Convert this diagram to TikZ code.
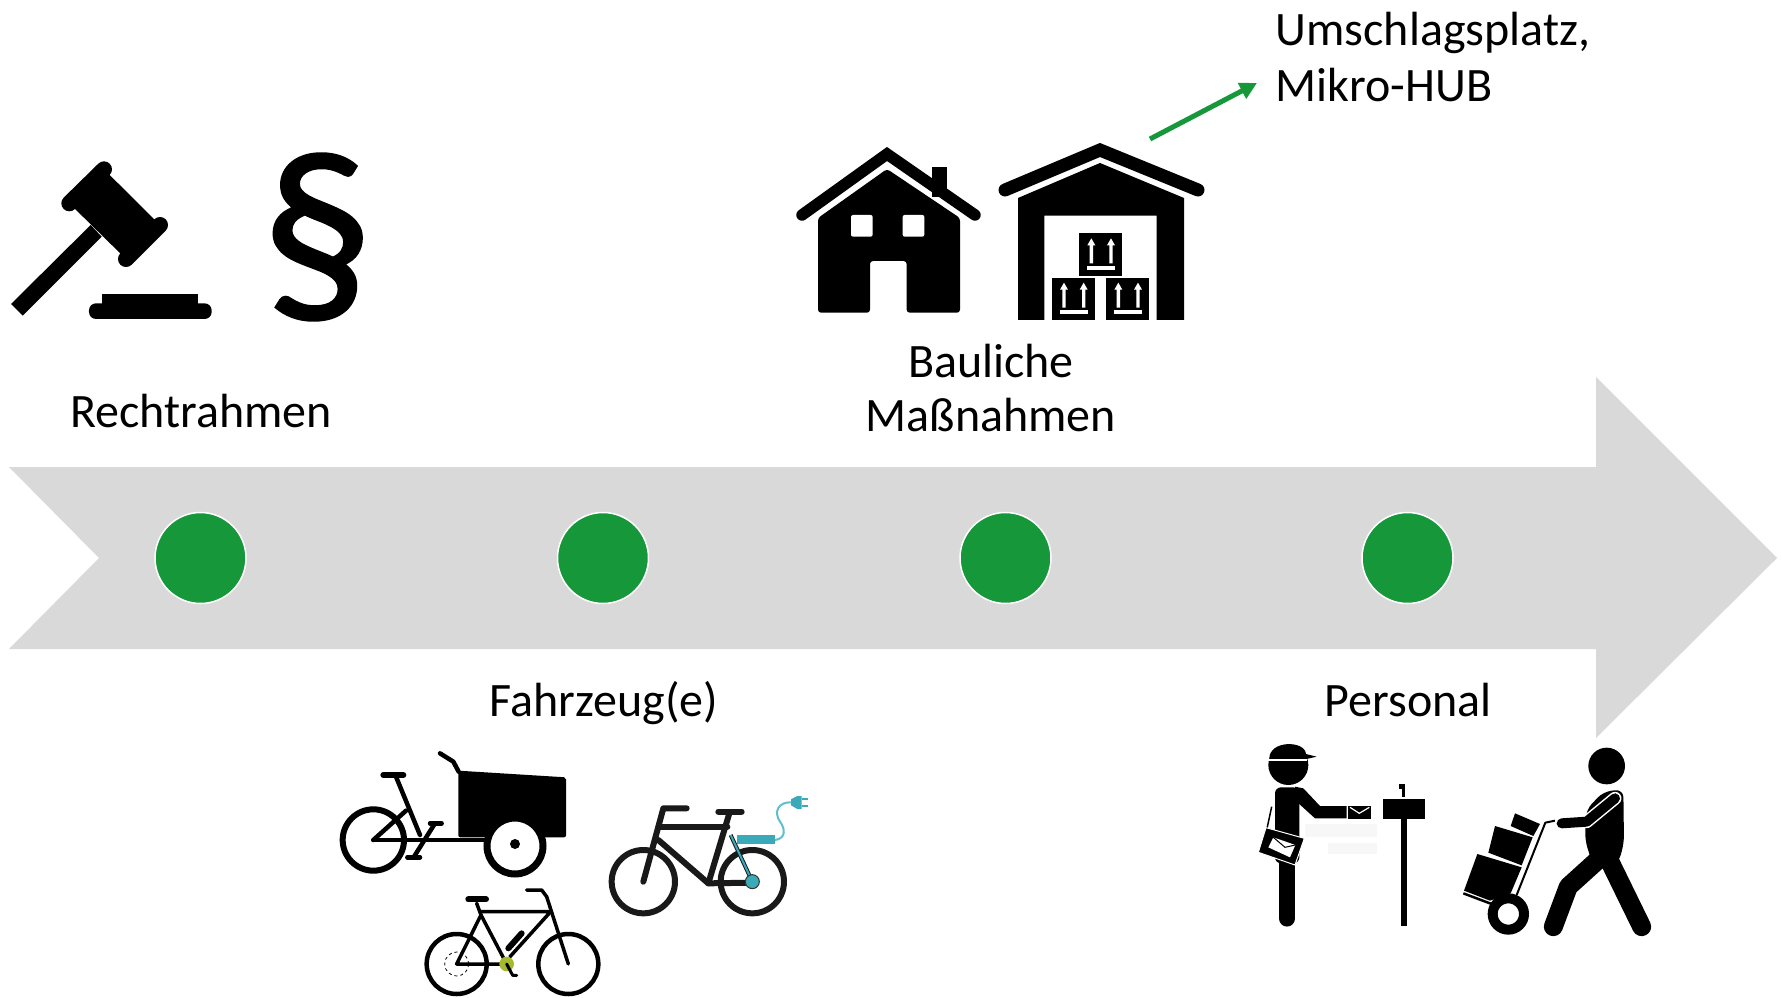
\documentclass[tikz,border=0pt]{standalone}
\usepackage{fontspec}
\setmainfont{Carlito}
\usetikzlibrary{arrows.meta}
\definecolor{flowgreen}{HTML}{15973A}
\definecolor{flowgrey}{HTML}{D9D9D9}
\definecolor{tealbat}{HTML}{3AA9B8}
\definecolor{tealcab}{HTML}{5FBFCE}
\definecolor{olivehub}{HTML}{A5BA2E}
\tikzset{
  x=1pt,y=-1pt,
  label text/.style={font=\fontsize{48}{53.5}\selectfont,text=black,inner sep=0pt,align=center},
  dot/.style={circle,fill=flowgreen,draw=white,line width=1.5pt,minimum size=91pt,inner sep=0pt},
  ink/.style={draw=black,line cap=round,line join=round},
  roof/.style={draw=black,line cap=round,line join=miter},
  crate/.pic={
    \fill[black] (0,0) rectangle (128,128);
    \foreach \ax in {36,95}{
      \fill[white] (\ax-5,90) -- (\ax-5,36) -- (\ax-12,36) -- (\ax,15) -- (\ax+12,36) -- (\ax+5,36) -- (\ax+5,90) -- cycle;
    }
    \fill[white] (23,97) rectangle (107,109);
  }
}
\begin{document}
\begin{tikzpicture}
\useasboundingbox (0,0) rectangle (1781,998);
\fill[white] (0,0) rectangle (1781,998);
% main arrow
\fill[flowgrey] (9,467) -- (1596,467) -- (1596,377) -- (1777,558) -- (1596,738) -- (1596,649) -- (9,649) -- (99,558) -- cycle;
\node[dot] (d1) at (200.5,558) {};
\node[dot] (d2) at (603,558) {};
\node[dot] (d3) at (1005.5,558) {};
\node[dot] (d4) at (1407.5,558) {};
% labels
\node[label text] (recht) at (201,411.5) {Rechtrahmen};
\node[label text] (bau) at (991,388) {Bauliche\\Maßnahmen};
\node[label text,font=\fontsize{48}{56}\selectfont,align=left,anchor=west] (hub) at (1275.5,57) {Umschlagsplatz,\\Mikro-HUB};
\node[label text] (fahr) at (604,703) {Fahrzeug(e)};
\node[label text] (pers) at (1408,700) {Personal};
% green arrow
\coordinate (arrS) at (1150,139);
\coordinate (arrE) at (1257,83);
\draw[flowgreen,line width=5pt,-{Triangle[length=17pt,width=17pt]}] (arrS) -- (arrE);
% gavel
\begin{scope}[yshift=-130pt,scale=0.33333]
  \fill[black] (272,285) -- (305,320) -- (68,557) -- (33,522) -- cycle;
  \fill[black] (312,118) -- (480,285) -- (378,387) -- (208,220) -- cycle;
  \draw[ink,line width=16pt] (312,118) -- (208,220);
  \draw[ink,line width=16pt] (480,285) -- (378,387);
  \fill[black] (305,493) rectangle (595,530);
  \fill[black,rounded corners=7pt] (267,520) rectangle (635,567);
\end{scope}
\node[font=\fontsize{225}{225}\selectfont\addfontfeature{FakeBold=1.2},inner sep=0pt] (para) at (317,237) {§};
% house
\begin{scope}[xshift=780pt,yshift=-120pt,scale=0.33333]
  \fill[black] (455,140) rectangle (500,230);
  \draw[roof,line width=11.5pt] (66,285) -- (321,102) -- (585,285);
  \fill[black,rounded corners=3pt] (114,294) -- (321,147) -- (540,294) -- (540,578) -- (380,578) -- (380,423) -- (270,423) -- (270,578) -- (114,578) -- cycle;
  \fill[white,rounded corners=2pt] (213,285) rectangle (278,350);
  \fill[white,rounded corners=2pt] (368,285) rectangle (433,350);
  % warehouse
  \draw[roof,line width=13pt] (675,210) -- (960,90) -- (1254,210);
  \fill[black] (714,234) -- (960,129) -- (1212,234) -- (1212,600) -- (1130,600) -- (1130,287) -- (793,287) -- (793,600) -- (714,600) -- cycle;
  \pic[transform shape] at (898,340) {crate};
  \pic[transform shape] at (816,473) {crate};
  \pic[transform shape] at (979,473) {crate};
\end{scope}
% bikes
\begin{scope}[xshift=320pt,yshift=-740pt,scale=0.33333]
  % cargo bike
  \draw[line width=6pt] (160,300) circle[radius=92];
  \fill[black,rounded corners=2pt] (415,92) -- (738,112) -- (738,292) -- (415,292) -- cycle;
  \draw[ink,line width=4.5pt] (360,40) -- (400,65) -- (416,95);
  \draw[ink,line width=4.5pt] (160,300) -- (500,300);
  \draw[ink,line width=6pt] (190,105) -- (250,105);
  \draw[ink,line width=4.5pt] (228,110) -- (300,285);
  \draw[ink,line width=4.5pt] (160,300) -- (258,212);
  \draw[ink,line width=4.5pt] (345,250) -- (282,350);
  \draw[ink,line width=4.5pt] (330,250) -- (365,250);
  \draw[ink,line width=4.5pt] (262,352) -- (300,352);
  \draw[line width=7pt,fill=white] (585,318) circle[radius=84];
  \fill[black] (585,312) circle[radius=15];
  % lower bike
  \draw[line width=4.5pt] (410,672) circle[radius=90];
  \draw[line width=4.5pt] (745,672) circle[radius=90];
  \draw[line width=0.8pt,dashed] (410,672) circle[radius=36];
  \draw[ink,line width=3.5pt] (410,672) -- (560,672) -- (483,525) -- cycle;
  \draw[ink,line width=3.5pt] (483,515) -- (692,515) -- (570,650);
  \draw[ink,line width=3.5pt] (620,450) -- (665,450) -- (680,470) -- (745,672);
  \draw[ink,line width=6pt] (445,478) -- (498,478);
  \draw[ink,line width=3.5pt] (470,490) -- (483,525);
  \draw[ink,line width=6pt] (565,625) -- (605,580);
  \fill[olivehub] (560,672) circle[radius=22];
  \draw[ink,line width=3pt] (560,672) -- (578,706) -- (590,706);
  % e-bike
  \draw[line width=6pt,black!90] (970,425) circle[radius=95];
  \draw[line width=6pt,black!90] (1297,425) circle[radius=95];
  \draw[ink,line width=6pt,black!90] (970,425) -- (1030,205) -- (1100,205);
  \draw[ink,line width=6pt,black!90] (1020,260) -- (1222,260);
  \draw[ink,line width=6pt,black!90] (1015,300) -- (1165,430) -- (1297,428);
  \draw[ink,line width=6pt,black!90] (1228,220) -- (1165,430);
  \draw[ink,line width=6pt,black!90] (1195,215) -- (1265,215);
  \fill[tealbat] (1250,285) rectangle (1365,312);
  \draw[line width=4pt,black!90] (1232,285) -- (1297,425);
  \draw[line width=2pt,tealbat] (1232,285) -- (1297,425);
  \fill[tealbat,draw=black!80,line width=1pt] (1297,425) circle[radius=21];
  \draw[tealcab,line width=2pt] (1365,300) .. controls (1400,295) and (1395,265) .. (1380,245) .. controls (1360,215) and (1375,185) .. (1415,187);
  \fill[tealbat] (1413,178) -- (1432,168) -- (1445,168) -- (1445,207) -- (1432,207) -- (1413,196) -- cycle;
  \draw[tealbat,line width=2pt] (1445,176) -- (1465,176);
  \draw[tealbat,line width=2pt] (1445,199) -- (1465,199);
\end{scope}
% postman
\begin{scope}[xshift=1240pt,yshift=-730pt,scale=0.33333]
  \fill[black!3] (195,283) rectangle (412,322);
  \fill[black!3] (265,340) rectangle (412,372);
  \fill[black] (145,105) circle[radius=60];
  \fill[black] (88,88) .. controls (85,30) and (195,30) .. (198,72) -- (230,80) -- (195,88) -- cycle;
  \fill[white] (85,86) rectangle (200,94);
  \fill[black,rounded corners=6pt] (105,172) -- (178,172) -- (178,400) -- (105,400) -- cycle;
  \fill[black] (165,170) -- (190,175) -- (240,228) -- (320,228) -- (320,265) -- (225,265) -- (170,215) -- cycle;
  \draw[ink,line width=16.5pt] (141,395) -- (141,565);
  \draw[black,line width=1.5pt] (95,230) -- (80,300);
  \draw[white,line width=1pt,fill=black] (78,293) -- (193,325) -- (165,405) -- (55,367) -- cycle;
  \fill[white] (100,322) -- (166,345) -- (150,382) -- (85,352) -- cycle;
  \draw[black,line width=1pt] (100,322) -- (135,352) -- (166,345);
  \fill[black] (325,228) rectangle (393,268);
  \draw[white,line width=1.2pt] (330,232) -- (358,250) -- (388,232);
  \fill[black] (428,207) rectangle (555,268);
  \fill[black] (482,268) rectangle (500,588);
  \draw[black,line width=2.5pt] (491,172) -- (491,200);
  \fill[black] (478,162) rectangle (496,178);
  % worker
  \fill[black] (1100,108) circle[radius=55];
  \fill[black,rounded corners=8pt] (1038,240) -- (1090,185) -- (1150,178) -- (1152,340) -- (1135,400) -- (1060,410) -- (1035,330) -- cycle;
  \draw[ink,line width=19pt] (1090,375) -- (985,470) -- (940,590);
  \draw[ink,line width=19pt] (1095,365) -- (1205,590);
  \draw[white,line width=13pt,line cap=round,line join=round] (1125,205) -- (1040,275);
  \draw[ink,line width=10pt] (965,280) -- (1040,275) -- (1125,205);
  \fill[black] (712,372) -- (845,412) -- (812,490) -- (750,512) -- (672,482) -- cycle;
  \fill[black] (765,288) -- (878,322) -- (845,406) -- (745,368) -- cycle;
  \fill[black] (825,250) -- (900,282) -- (880,318) -- (812,288) -- cycle;
  \draw[black,line width=2pt,line join=round] (945,272) -- (916,278) -- (830,495);
  \draw[black,line width=2.5pt] (670,490) -- (755,522);
  \draw[line width=10pt] (805,552) circle[radius=47];
\end{scope}
\end{tikzpicture}
\end{document}
